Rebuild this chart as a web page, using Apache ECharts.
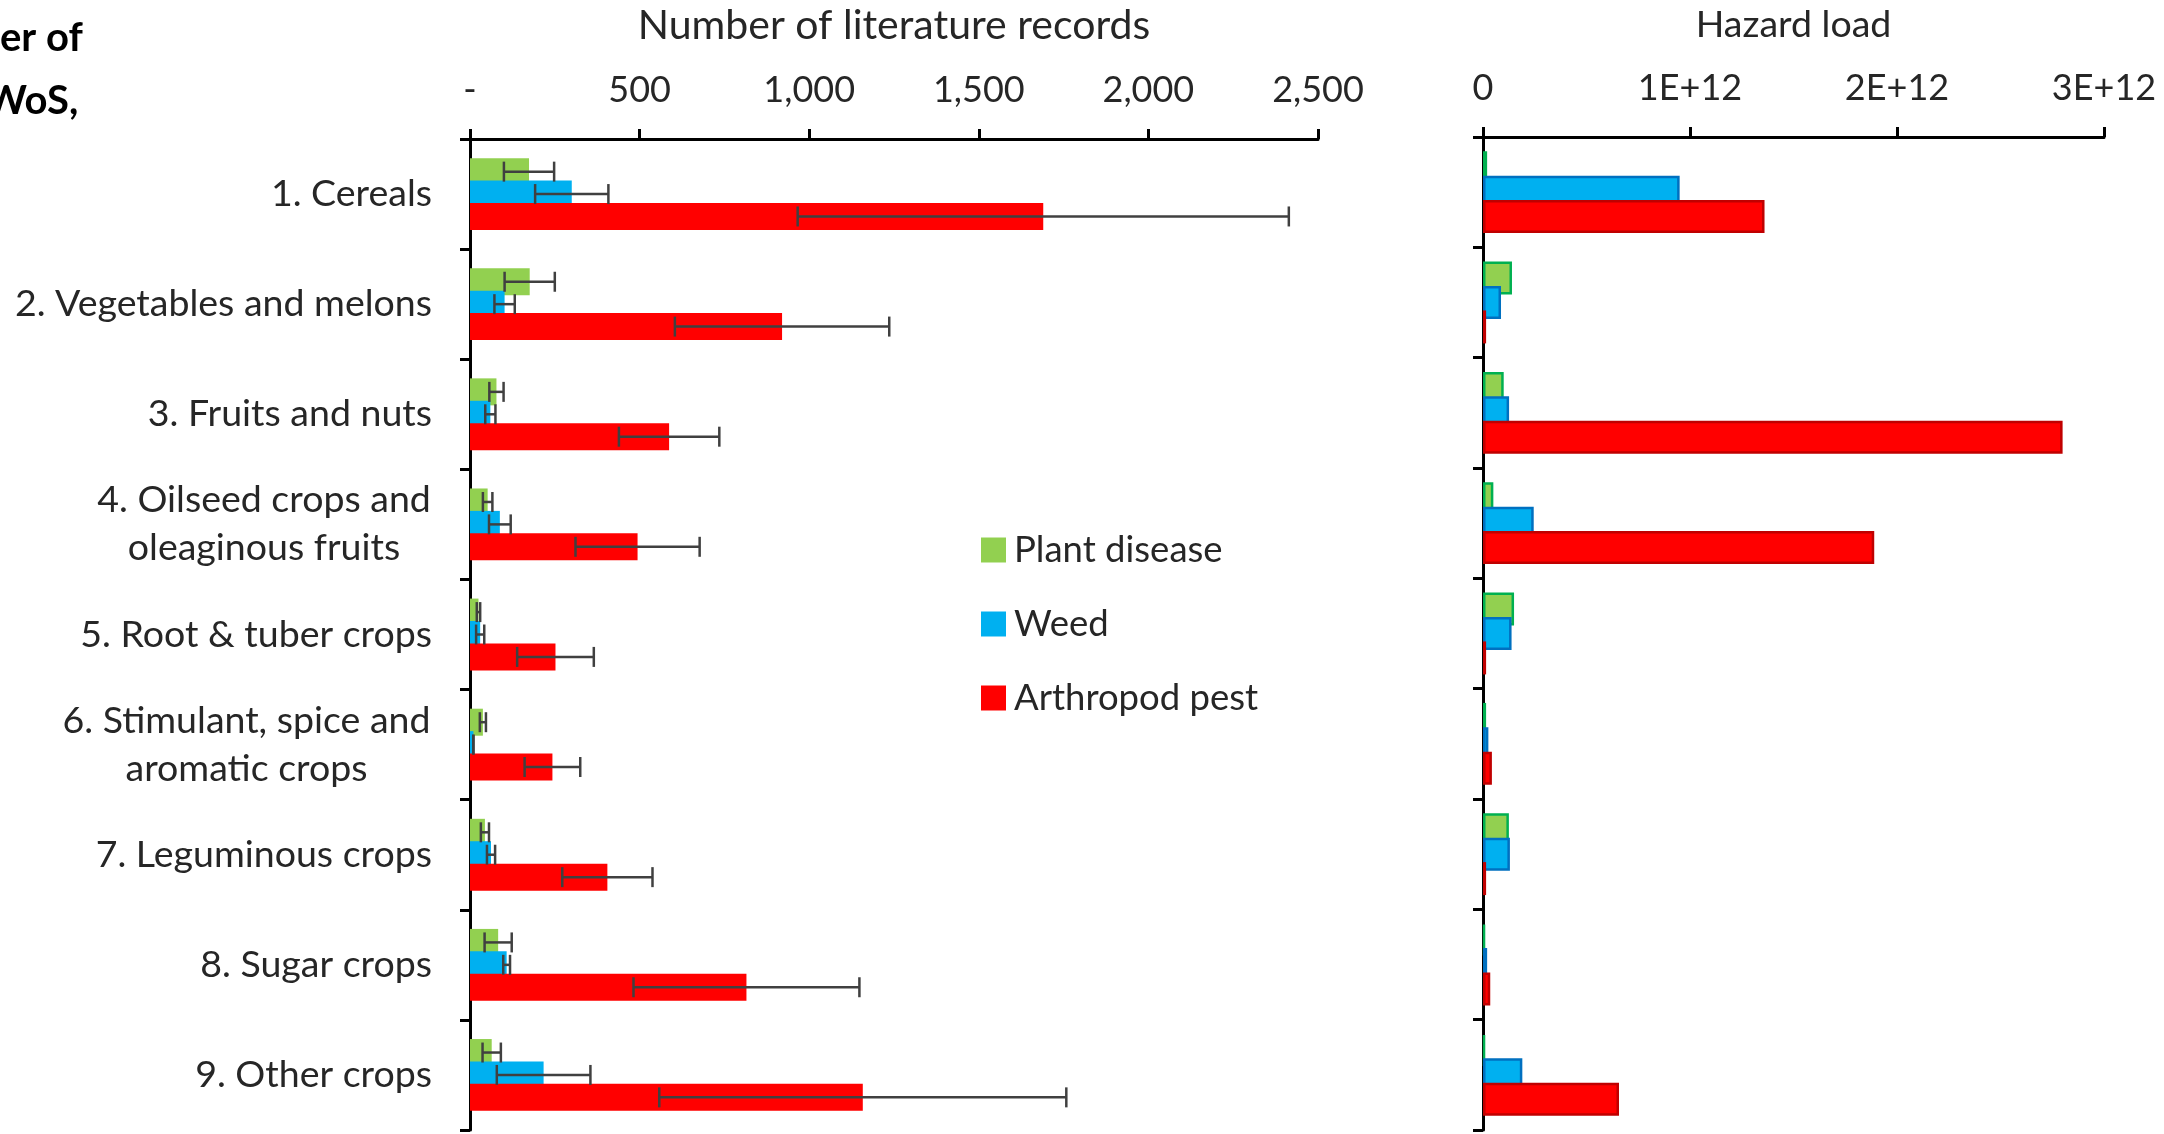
<!DOCTYPE html>
<html>
<head>
<meta charset="utf-8">
<script src="https://cdn.jsdelivr.net/npm/echarts@6/dist/echarts.min.js"></script>
<style>
html,body{margin:0;padding:0;background:#fff;}
#chart{width:2164px;height:1134px;}
</style>
</head>
<body>
<div id="chart"></div>
<script>
// ---------- DATA ----------
const categories = [
  '1. Cereals',
  '2. Vegetables and melons',
  '3. Fruits and nuts',
  '4. Oilseed crops and\noleaginous fruits',
  '5. Root & tuber crops',
  '6. Stimulant, spice and\naromatic crops',
  '7. Leguminous crops',
  '8. Sugar crops',
  '9. Other crops'
];
const seriesNames = ['Plant disease', 'Weed', 'Arthropod pest'];

// Number of literature records (mean) and error (+/-)
const recordsDisease = [174, 176, 78, 52, 25, 38, 44, 83, 64];
const recordsWeed    = [300, 102, 60, 88, 30, 10, 62, 108, 217];
const recordsPest    = [1690, 920, 587, 494, 252, 243, 405, 815, 1158];
const errDisease     = [74, 74, 21, 14, 5, 9, 12, 40, 27];
const errWeed        = [108, 30, 15, 32, 12, 0, 12, 10, 138];
const errPest        = [724, 316, 148, 183, 113, 82, 133, 333, 600];

// Hazard load
const hazardDisease = [0.02e12, 0.14e12, 0.10e12, 0.05e12, 0.15e12, 0.015e12, 0.125e12, 0.01e12, 0.01e12];
const hazardWeed    = [0.95e12, 0.087e12, 0.126e12, 0.245e12, 0.138e12, 0.026e12, 0.13e12, 0.02e12, 0.19e12];
const hazardPest    = [1.36e12, 0.015e12, 2.80e12, 1.89e12, 0.015e12, 0.043e12, 0.015e12, 0.035e12, 0.657e12];

// Tick labels
const recordsTickLabels = ['-', '500', '1,000', '1,500', '2,000', '2,500'];
const hazardTickLabels  = ['0', '1E+12', '2E+12', '3E+12'];

// ---------- STYLE ----------
const FONT = 'Lato';
const FS = 36;
const FSL = 37.5;
const TXT = '#262626';
const fill = ['#92D050', '#00B0F0', '#FF0000'];
const border = ['#00B050', '#0070C0', '#C00000'];
const BW1 = 27, GAP1 = -0.17;
const BW2 = 33, GAP2 = -0.26;
const step1 = BW1 * (1 + GAP1);
const CAP = 20;

// measure text for centred multi-line labels
const cv = document.createElement('canvas').getContext('2d');
cv.font = FSL + 'px ' + FONT;
const labelRich = {};
function labelFormatter(v) {
  if (v.indexOf('\n') < 0) return v;
  const lines = v.split('\n');
  const w = Math.ceil(Math.max.apply(null, lines.map(l => cv.measureText(l).width))) + 2;
  labelRich['c' + w] = {fontSize: FSL, fontFamily: FONT, color: TXT, width: w, align: 'center', lineHeight: 48};
  return lines.map(l => '{c' + w + '|' + l + '}').join('\n');
}
categories.forEach(labelFormatter);

const chart = echarts.init(document.getElementById('chart'));

function barSeries(i, vals, xi, bw, gap, withBorder) {
  return {
    type: 'bar', name: seriesNames[i], xAxisIndex: xi, yAxisIndex: xi,
    data: vals, barWidth: bw, barGap: (gap * 100) + '%',
    itemStyle: withBorder ? {color: fill[i], borderColor: border[i], borderWidth: 2.5} : {color: fill[i]},
    z: 2 + i
  };
}
function errSeries(i, vals, errs) {
  const offset = (i - 1) * step1;
  return {
    type: 'custom', name: 'err' + i, xAxisIndex: 0, yAxisIndex: 0, z: 10, silent: true,
    data: vals.map((v, k) => [k, v - errs[k], v + errs[k]]),
    encode: {x: [1, 2], y: 0},
    renderItem(params, api) {
      const k = api.value(0);
      const p1 = api.coord([api.value(1), k]);
      const p2 = api.coord([api.value(2), k]);
      const y = p1[1] + offset;
      const h = CAP / 2;
      const st = {stroke: '#404040', lineWidth: 2.5};
      return {type: 'group', children: [
        {type: 'line', shape: {x1: p1[0], y1: y, x2: p2[0], y2: y}, style: st},
        {type: 'line', shape: {x1: p1[0], y1: y - h, x2: p1[0], y2: y + h}, style: st},
        {type: 'line', shape: {x1: p2[0], y1: y - h, x2: p2[0], y2: y + h}, style: st}
      ]};
    }
  };
}

const axisLine = {show: true, lineStyle: {color: '#000', width: 3}};
const axisTick = {show: true, length: 10, lineStyle: {color: '#000', width: 3}};

const option = {
  animation: false,
  backgroundColor: '#fff',
  textStyle: {fontFamily: FONT},
  graphic: [
    {type: 'text', left: 0, top: 18, style: {text: 'er of', font: 'bold 40px ' + FONT, fill: '#000'}},
    {type: 'text', left: -15, top: 81, style: {text: 'WoS,', font: 'bold 40px ' + FONT, fill: '#000'}}
  ],
  legend: {
    data: seriesNames, orient: 'vertical', left: 976, top: 525,
    itemWidth: 25, itemHeight: 25, itemGap: 34, icon: 'rect',
    textStyle: {fontSize: 36.5, fontFamily: FONT, color: TXT, lineHeight: 40, padding: [0, 0, 0, 3]}
  },
  grid: [
    {left: 470, width: 848, top: 137, height: 993, containLabel: false},
    {left: 1483, width: 621, top: 137, height: 993, containLabel: false}
  ],
  xAxis: [
    {
      type: 'value', gridIndex: 0, position: 'top', min: 0, max: 2500, interval: 500,
      name: 'Number of literature records', nameLocation: 'middle', nameGap: 93,
      nameTextStyle: {fontSize: 41, fontFamily: FONT, color: TXT},
      axisLine, axisTick, splitLine: {show: false},
      axisLabel: {fontSize: FS, fontFamily: FONT, color: TXT, margin: 31,
        formatter: v => recordsTickLabels[Math.round(v / 500)]}
    },
    {
      type: 'value', gridIndex: 1, position: 'top', min: 0, max: 3e12, interval: 1e12,
      name: 'Hazard load', nameLocation: 'middle', nameGap: 93,
      nameTextStyle: {fontSize: 37.5, fontFamily: FONT, color: TXT},
      axisLine, axisTick, splitLine: {show: false},
      axisLabel: {fontSize: FS, fontFamily: FONT, color: TXT, margin: 31,
        formatter: v => hazardTickLabels[Math.round(v / 1e12)]}
    }
  ],
  yAxis: [
    {
      type: 'category', gridIndex: 0, data: categories, inverse: true,
      axisLine, axisTick,
      axisLabel: {fontSize: FSL, fontFamily: FONT, color: TXT, margin: 38, lineHeight: 48,
        formatter: labelFormatter, rich: labelRich}
    },
    {
      type: 'category', gridIndex: 1, data: categories, inverse: true,
      axisLine, axisTick, axisLabel: {show: false}
    }
  ],
  series: [
    barSeries(0, recordsDisease, 0, BW1, GAP1, false),
    barSeries(1, recordsWeed, 0, BW1, GAP1, false),
    barSeries(2, recordsPest, 0, BW1, GAP1, false),
    errSeries(0, recordsDisease, errDisease),
    errSeries(1, recordsWeed, errWeed),
    errSeries(2, recordsPest, errPest),
    barSeries(0, hazardDisease, 1, BW2, GAP2, true),
    barSeries(1, hazardWeed, 1, BW2, GAP2, true),
    barSeries(2, hazardPest, 1, BW2, GAP2, true)
  ]
};
chart.setOption(option);
</script>
</body>
</html>
